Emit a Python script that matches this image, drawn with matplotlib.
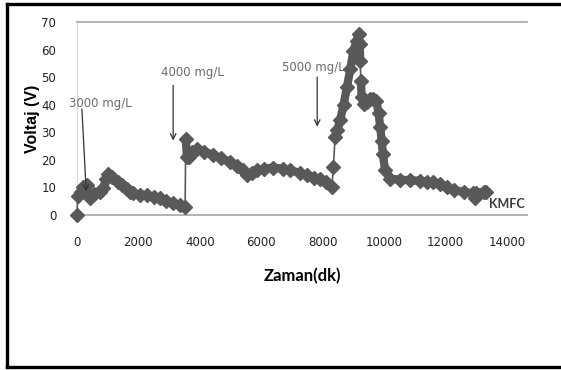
import matplotlib
matplotlib.use("Agg")
import numpy as np
import matplotlib.pyplot as plt
from matplotlib.lines import Line2D

# KMFC voltage readings
zaman = [0, 20, 120, 205, 315, 380, 420, 560, 750, 850, 950, 1020, 1150, 1345,
         1480, 1620, 1720, 1835, 2050, 2270, 2500, 2700, 2900, 3140, 3350, 3520,
         3540, 3580, 3630, 3750, 3900, 4150, 4440, 4700, 4985, 5200, 5420, 5525,
         5700, 5850, 6100, 6395, 6700, 6940, 7250, 7480, 7700, 7915, 8100, 8295,
         8350, 8400, 8480, 8565, 8680, 8785, 8900, 9000, 9100, 9165, 9200, 9220,
         9240, 9270, 9330, 9450, 9545, 9650, 9740, 9820, 9870, 9920, 9955, 10030,
         10195, 10500, 10850, 11170, 11390, 11600, 11825, 12050, 12260, 12585,
         12900, 12950, 13000, 13235, 13300]
voltaj = [0, 7, 8.5, 10.2, 10.8, 7, 6.2, 7.5, 8.4, 9.7, 13, 15, 13.8, 12,
          10.8, 9.6, 8.4, 7.8, 7.4, 7.2, 6.6, 6, 5.2, 4.2, 3.6, 3,
          27.7, 21, 21, 23, 24, 23, 21.7, 20.5, 19.2, 17.8, 16.2, 14.6,
          15.3, 16.2, 16.8, 17.2, 16.8, 16.2, 15.3, 14.4, 13.6, 12.9, 11.8, 10.2,
          17.4, 28.3, 31, 34.3, 40, 46.3, 53, 59.6, 63, 65.6, 62, 56,
          48.7, 42.7, 40.3, 41, 42.1, 42, 41.5, 37, 31.9, 27, 22.3, 16.2,
          13.2, 12.8, 12.6, 12.4, 12, 11.8, 11.2, 10, 9, 8.4,
          7.8, 6, 8, 8.4, 8.4]

# dose annotations: label, text position, arrow start, arrow end
doz_etiket = ["3000 mg/L", "4000 mg/L", "5000 mg/L"]
doz_text = [(770, 40.4), (3745, 51.6), (7690, 53.4)]
doz_ok_bas = [(160, 38.4), (3130, 47), (7820, 50)]
doz_ok_son = [(300, 8.5), (3130, 27), (7820, 32)]

yticks = list(range(0, 71, 10))
xticks = list(range(0, 14001, 2000))

fig = plt.figure(figsize=(5.61, 3.70), dpi=100)
ax = fig.add_axes([77 / 561, 1 - 215 / 370, 450 / 561, 193 / 370])

grey = "#595959"
# thin connecting line with diamonds
ax.plot(zaman, voltaj, color=grey, lw=1.2, marker="D", ms=7,
        markerfacecolor=grey, markeredgecolor=grey, zorder=3, clip_on=False)
# the dense marker band: thick line, broken only at the sudden jumps
x = np.array(zaman)
y = np.array(voltaj)
dx = np.diff(x)
dy = np.abs(np.diff(y))
cuts = np.where((dy >= 7) & (dx <= 60))[0] + 1
for xs, ys in zip(np.split(x, cuts), np.split(y, cuts)):
    if len(xs) > 1:
        ax.plot(xs, ys, color=grey, lw=6, solid_capstyle="round", zorder=3)

ax.set_xlim(0, 14650)
ax.set_ylim(0, 70)
ax.set_xticks(xticks)
ax.set_yticks(yticks)
ax.tick_params(length=0, pad=15, labelsize=8.5, labelcolor="#222222")
for lab in ax.get_xticklabels() + ax.get_yticklabels():
    lab.set_family("Liberation Sans Narrow")

for s in ["top", "bottom"]:
    ax.spines[s].set_color("#a6a6a6")
    ax.spines[s].set_linewidth(1.2)
ax.spines["left"].set_color("#d9d9d9")
ax.spines["right"].set_visible(False)

ax.set_ylabel("Voltaj (V)", fontsize=11.5, fontweight="bold",
              family="Liberation Sans", labelpad=1)
ax.set_xlabel("Zaman(dk)", fontsize=12, fontweight="bold",
              family="Lato", labelpad=14)

for lab, tp, a0, a1 in zip(doz_etiket, doz_text, doz_ok_bas, doz_ok_son):
    ax.text(tp[0], tp[1], lab, ha="center", va="center", fontsize=8.5,
            family="Liberation Sans Narrow", color="#6b6b6b", clip_on=False)
    ax.annotate("", xy=a1, xytext=a0,
                arrowprops=dict(arrowstyle="->", color="#333333", lw=0.9,
                                shrinkA=0, shrinkB=0), zorder=4)

ax.text(13420, 4.0, "KMFC", ha="left", va="center", fontsize=9,
        family="Lato", fontweight="bold", color="#3a3a3a", clip_on=False)

# black frame around the chart
for xs, ys in [([6.5, 561], [366.5, 366.5]), ([6.5, 561], [3.5, 3.5]),
               ([6.5, 6.5], [3.5, 366.5])]:
    fig.add_artist(Line2D([v / 561 for v in xs], [1 - v / 370 for v in ys],
                          color="black", lw=2.4, transform=fig.transFigure))

fig.savefig("out.png", dpi=100)
